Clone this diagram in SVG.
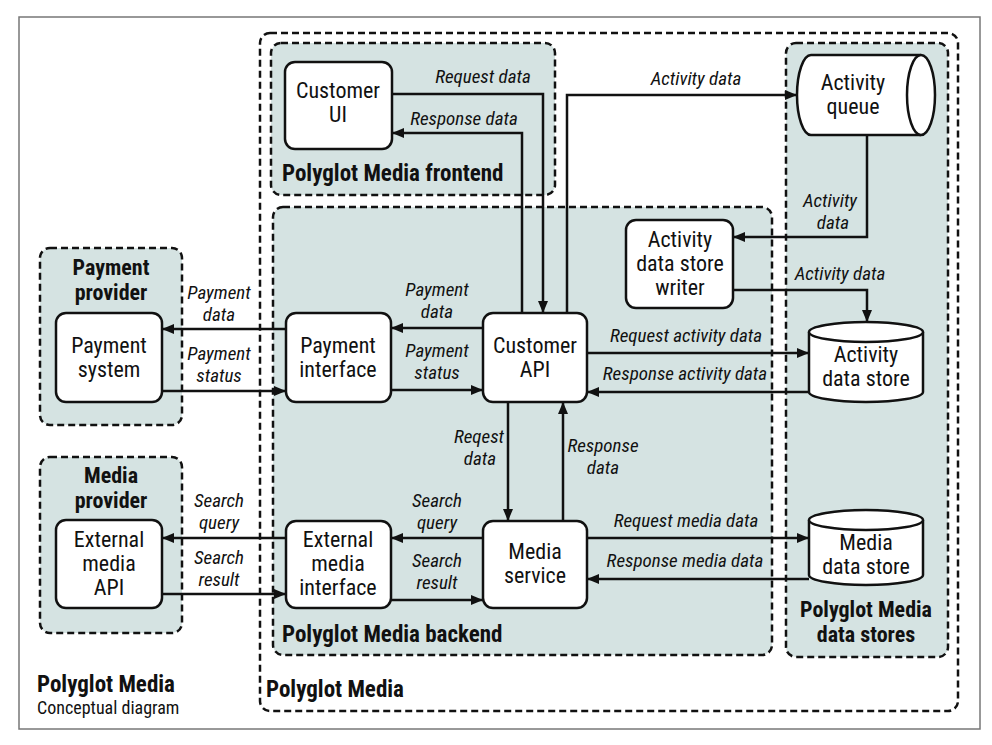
<svg xmlns="http://www.w3.org/2000/svg" width="992" height="745" viewBox="0 0 992 745">
<style>
  text { font-family: "Liberation Sans Narrow", "Roboto Condensed", "DejaVu Sans Condensed", "Liberation Sans", sans-serif; fill: #111; }
  .n { font-size: 22px; text-anchor: middle; }
  .l { font-size: 19px; font-style: italic; text-anchor: middle; }
  .t { font-size: 23px; font-weight: bold; }
  .tc { font-size: 22px; font-weight: bold; text-anchor: middle; }
  .s { font-size: 18px; }
  .grp { fill: #d5e3e2; stroke: #111; stroke-width: 2.5; stroke-dasharray: 7 4; }
  .outer { fill: none; stroke: #111; stroke-width: 2.5; stroke-dasharray: 7 4; }
  .node { fill: #fff; stroke: #111; stroke-width: 2.5; }
  .c { fill: none; stroke: #111; stroke-width: 2.5; marker-end: url(#a); }
</style>
<defs>
  <marker id="a" viewBox="0 0 12 10" refX="12" refY="5" markerWidth="12" markerHeight="10" markerUnits="userSpaceOnUse" orient="auto">
    <path d="M0,0 L12,5 L0,10 z" fill="#111"/>
  </marker>
</defs>
<rect x="0" y="0" width="992" height="745" fill="#fff"/>
<rect x="19" y="17" width="961" height="712" fill="#fff" stroke="#777" stroke-width="1.5"/>

<g id="polyglot-media">
  <rect class="outer" x="260" y="33" width="698" height="678" rx="10"/>
  <text class="t" x="266" y="697">Polyglot Media</text>
</g>
<g id="frontend">
  <rect class="grp" x="271" y="43" width="284" height="152" rx="10"/>
  <text class="t" x="282" y="181">Polyglot Media frontend</text>
</g>
<g id="backend">
  <rect class="grp" x="273" y="207" width="499" height="448" rx="10"/>
  <text class="t" x="282" y="642">Polyglot Media backend</text>
</g>
<g id="data-stores">
  <rect class="grp" x="786" y="43" width="162" height="614" rx="10"/>
  <text class="tc" x="866" y="617">Polyglot Media</text>
  <text class="tc" x="866" y="642">data stores</text>
</g>
<g id="payment-provider">
  <rect class="grp" x="40" y="248" width="142" height="177" rx="10"/>
  <text class="tc" x="111" y="275">Payment</text>
  <text class="tc" x="111" y="300">provider</text>
</g>
<g id="media-provider">
  <rect class="grp" x="40" y="457" width="142" height="176" rx="10"/>
  <text class="tc" x="111" y="483">Media</text>
  <text class="tc" x="111" y="508">provider</text>
</g>
<g id="caption">
  <text class="t" x="37" y="692">Polyglot Media</text>
  <text class="s" x="37" y="714">Conceptual diagram</text>
</g>

<g id="connectors">
  <path class="c" d="M392,94 H543 V313"/>
  <path class="c" d="M522,313 V133 H392"/>
  <path class="c" d="M567,313 V95 H797"/>
  <path class="c" d="M867,135 V237 H733"/>
  <path class="c" d="M733,290 H867 V322"/>
  <path class="c" d="M587,353 H809"/>
  <path class="c" d="M809,392 H587"/>
  <path class="c" d="M483,328 H391"/>
  <path class="c" d="M391,390 H483"/>
  <path class="c" d="M286,329 H162"/>
  <path class="c" d="M162,391 H286"/>
  <path class="c" d="M508,402 V521"/>
  <path class="c" d="M563,521 V402"/>
  <path class="c" d="M483,538 H391"/>
  <path class="c" d="M391,600 H483"/>
  <path class="c" d="M286,538 H162"/>
  <path class="c" d="M162,594 H286"/>
  <path class="c" d="M587,538 H809"/>
  <path class="c" d="M809,579 H587"/>
  <g id="connector-labels">
    <text class="l" x="483" y="83">Request data</text>
    <text class="l" x="464" y="125">Response data</text>
    <text class="l" x="696" y="85">Activity data</text>
    <text class="l" x="830" y="207">Activity</text>
    <text class="l" x="833" y="229">data</text>
    <text class="l" x="840" y="280">Activity data</text>
    <text class="l" x="686" y="342">Request activity data</text>
    <text class="l" x="685" y="380">Response activity data</text>
    <text class="l" x="437" y="296">Payment</text>
    <text class="l" x="437" y="318">data</text>
    <text class="l" x="437" y="357">Payment</text>
    <text class="l" x="437" y="379">status</text>
    <text class="l" x="219" y="299">Payment</text>
    <text class="l" x="219" y="321">data</text>
    <text class="l" x="219" y="360">Payment</text>
    <text class="l" x="219" y="382">status</text>
    <text class="l" x="479" y="443">Reqest</text>
    <text class="l" x="480" y="465">data</text>
    <text class="l" x="603" y="452">Response</text>
    <text class="l" x="603" y="474">data</text>
    <text class="l" x="437" y="507">Search</text>
    <text class="l" x="437" y="529">query</text>
    <text class="l" x="437" y="567">Search</text>
    <text class="l" x="437" y="589">result</text>
    <text class="l" x="219" y="507">Search</text>
    <text class="l" x="219" y="529">query</text>
    <text class="l" x="219" y="564">Search</text>
    <text class="l" x="219" y="586">result</text>
    <text class="l" x="686" y="527">Request media data</text>
    <text class="l" x="685" y="567">Response media data</text>
  </g>
</g>

<g id="customer-ui">
  <rect class="node" x="285" y="62" width="107" height="87" rx="10"/>
  <text class="n" x="338" y="98">Customer</text>
  <text class="n" x="338" y="122">UI</text>
</g>
<g id="activity-queue">
  <path class="node" d="M811,55 H921 A14,40 0 0 1 921,135 H811 A14,40 0 0 1 811,55 Z"/>
  <path class="node" fill="none" d="M921,55 A14,40 0 0 0 921,135"/>
  <text class="n" x="853" y="90">Activity</text>
  <text class="n" x="853" y="114">queue</text>
</g>
<g id="activity-data-store-writer">
  <rect class="node" x="626" y="220" width="107" height="88" rx="10"/>
  <text class="n" x="680" y="247">Activity</text>
  <text class="n" x="680" y="271">data store</text>
  <text class="n" x="680" y="295">writer</text>
</g>
<g id="activity-data-store">
  <path class="node" d="M809,332 A57,10 0 0 1 923,332 V392 A57,10 0 0 1 809,392 Z"/>
  <path class="node" fill="none" d="M809,332 A57,10 0 0 0 923,332"/>
  <text class="n" x="866" y="362">Activity</text>
  <text class="n" x="866" y="386">data store</text>
</g>
<g id="customer-api">
  <rect class="node" x="483" y="313" width="104" height="89" rx="10"/>
  <text class="n" x="535" y="353">Customer</text>
  <text class="n" x="535" y="377">API</text>
</g>
<g id="payment-interface">
  <rect class="node" x="286" y="313" width="105" height="89" rx="10"/>
  <text class="n" x="338" y="353">Payment</text>
  <text class="n" x="338" y="377">interface</text>
</g>
<g id="payment-system">
  <rect class="node" x="56" y="313" width="106" height="89" rx="10"/>
  <text class="n" x="109" y="353">Payment</text>
  <text class="n" x="109" y="377">system</text>
</g>
<g id="external-media-api">
  <rect class="node" x="56" y="520" width="106" height="88" rx="10"/>
  <text class="n" x="109" y="547">External</text>
  <text class="n" x="109" y="571">media</text>
  <text class="n" x="109" y="595">API</text>
</g>
<g id="external-media-interface">
  <rect class="node" x="286" y="521" width="105" height="87" rx="10"/>
  <text class="n" x="338" y="547">External</text>
  <text class="n" x="338" y="571">media</text>
  <text class="n" x="338" y="595">interface</text>
</g>
<g id="media-service">
  <rect class="node" x="483" y="521" width="104" height="87" rx="10"/>
  <text class="n" x="535" y="559">Media</text>
  <text class="n" x="535" y="583">service</text>
</g>
<g id="media-data-store">
  <path class="node" d="M809,520 A57,10 0 0 1 923,520 V575 A57,10 0 0 1 809,575 Z"/>
  <path class="node" fill="none" d="M809,520 A57,10 0 0 0 923,520"/>
  <text class="n" x="866" y="550">Media</text>
  <text class="n" x="866" y="574">data store</text>
</g>
</svg>
